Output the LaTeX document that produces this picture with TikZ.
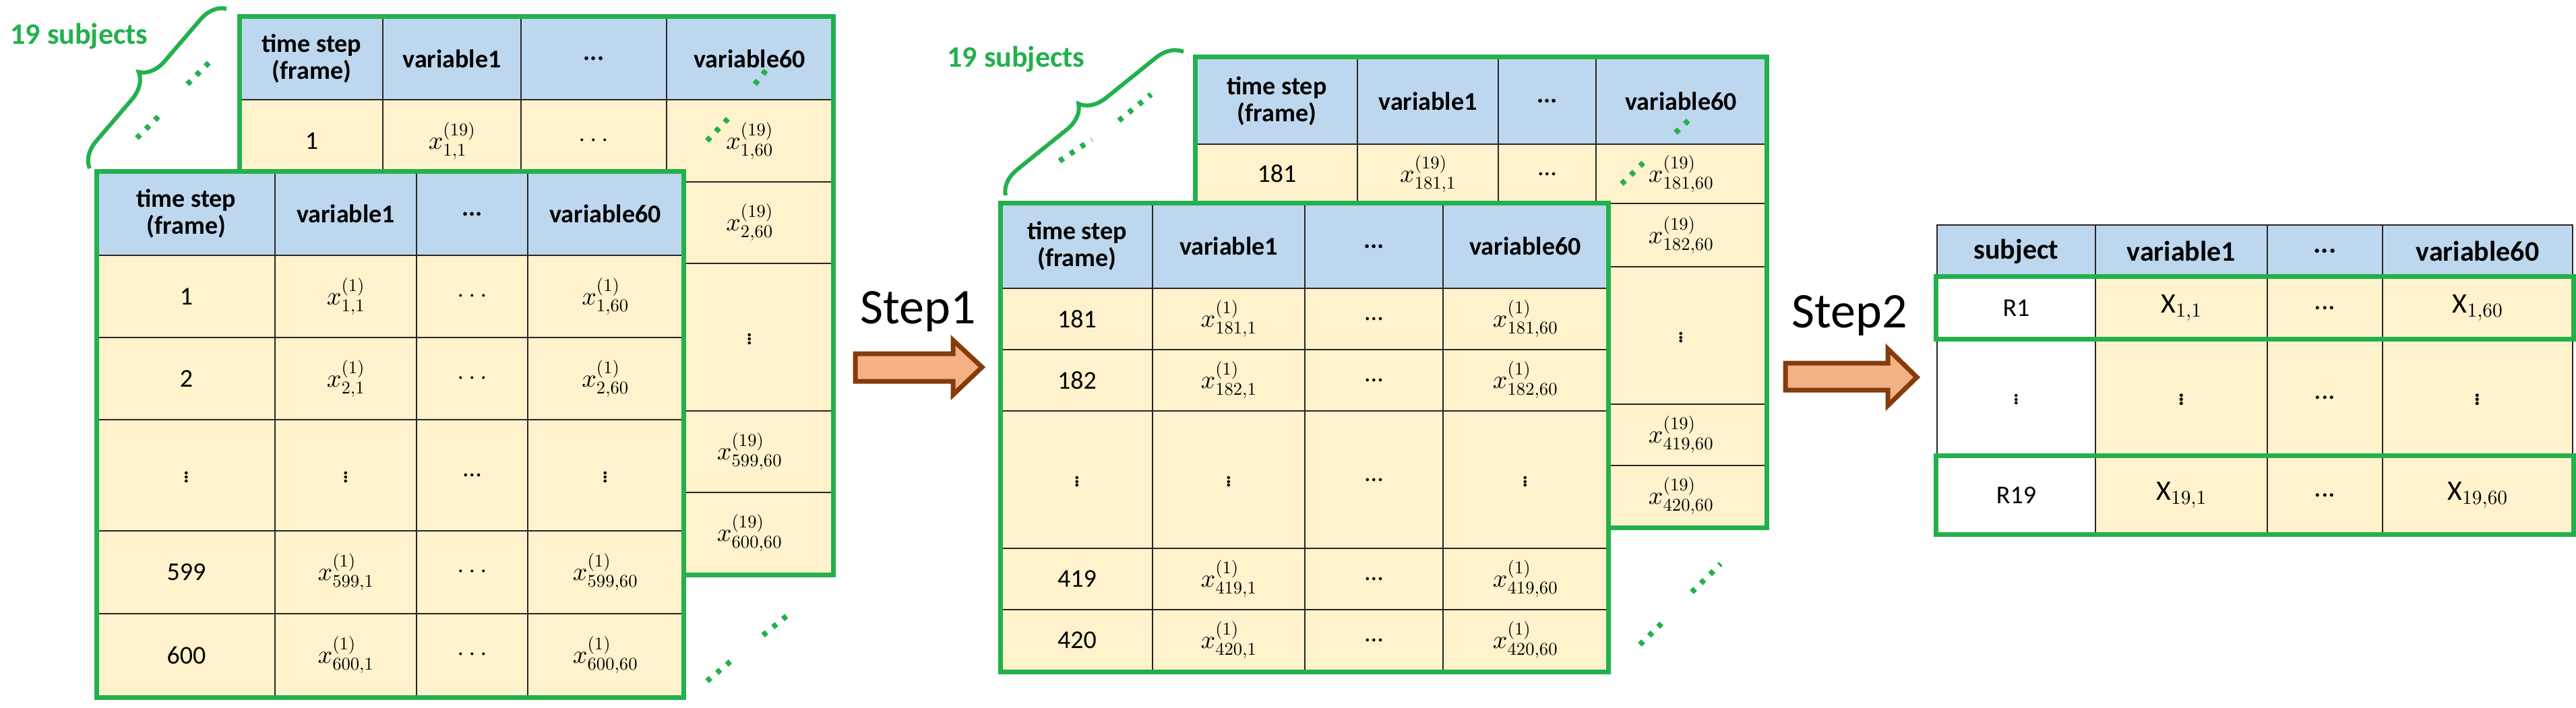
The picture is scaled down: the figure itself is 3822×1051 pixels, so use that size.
\documentclass[tikz,border=0pt]{standalone}
\usepackage{fontspec}
\setmainfont{Carlito}
\DeclareFontShape{OML}{cmm}{m}{it}{<-> cmmi10}{}
\DeclareFontShape{OMS}{cmsy}{m}{n}{<-> cmsy10}{}
\DeclareFontShape{OT1}{cmr}{m}{n}{<-> cmr10}{}
\DeclareFontShape{OMX}{cmex}{m}{n}{<-> cmex10}{}
\usetikzlibrary{decorations.pathreplacing}
\definecolor{hdr}{HTML}{BDD7EE}
\definecolor{dat}{HTML}{FFF2CC}
\definecolor{grn}{HTML}{22B14C}
\definecolor{arrf}{HTML}{F4B183}
\definecolor{arrd}{HTML}{843C0C}
\newcommand\setcols[5]{\def\xa{#1}\def\xb{#2}\def\xc{#3}\def\xd{#4}\def\xe{#5}}
\newcommand\trow[8]{%
 \node[cell,#4,minimum width={\xb-\xa},minimum height={#3-#2}] (#1a) at ({(\xa+\xb)/2},{(#2+#3)/2}) {#5};
 \node[cell,#4,minimum width={\xc-\xb},minimum height={#3-#2}] (#1b) at ({(\xb+\xc)/2},{(#2+#3)/2}) {#6};
 \node[cell,#4,minimum width={\xd-\xc},minimum height={#3-#2}] (#1c) at ({(\xc+\xd)/2},{(#2+#3)/2}) {#7};
 \node[cell,#4,minimum width={\xe-\xd},minimum height={#3-#2}] (#1d) at ({(\xd+\xe)/2},{(#2+#3)/2}) {#8};}
\newcommand\trowW[8]{%
 \node[cell,fill=white,minimum width={\xb-\xa},minimum height={#3-#2}] (#1a) at ({(\xa+\xb)/2},{(#2+#3)/2}) {#5};
 \node[cell,#4,minimum width={\xc-\xb},minimum height={#3-#2}] (#1b) at ({(\xb+\xc)/2},{(#2+#3)/2}) {#6};
 \node[cell,#4,minimum width={\xd-\xc},minimum height={#3-#2}] (#1c) at ({(\xc+\xd)/2},{(#2+#3)/2}) {#7};
 \node[cell,#4,minimum width={\xe-\xd},minimum height={#3-#2}] (#1d) at ({(\xd+\xe)/2},{(#2+#3)/2}) {#8};}
\tikzset{
 cell/.style={draw=black!85,line width=2.5pt,inner sep=0pt,align=center,font=\fontsize{38}{40}\selectfont},
 H/.style={fill=hdr,font=\fontsize{38}{40}\selectfont\bfseries},
 D/.style={fill=dat},
 gbox/.style={draw=grn,line width=7pt},
 gdots/.style={draw=grn,line width=8pt,dash pattern=on 7pt off 12pt},
 brc/.style={draw=grn,line width=6pt,decorate,decoration={brace,amplitude=38pt}},
 arr/.style={fill=arrf,draw=arrd,line width=7pt,line join=miter},
 steptxt/.style={font=\fontsize{74}{80}\selectfont},
 subj/.style={text=grn,font=\fontsize{44}{48}\selectfont\bfseries}
}
\begin{document}
\begin{tikzpicture}[x=1pt,y=-1pt]
\useasboundingbox[fill=white] (0,0) rectangle (3822,1051);
% ---------- Table 1 back ----------
\setcols{357}{568}{773}{989}{1235}
\trow{pb}{26}{148}{H}{time step\\(frame)}{variable1}{...}{variable60}
\trow{pbr1}{148}{270}{D}{1}{$x^{(19)}_{1,1}$}{$\cdots$}{$x^{(19)}_{1,60}$}
\trow{pbr2}{270}{391}{D}{2}{$x^{(19)}_{2,1}$}{$\cdots$}{$x^{(19)}_{2,60}$}
\trow{pbr3}{391}{610}{D}{$\vdots$}{$\vdots$}{...}{$\vdots$}
\trow{pbr4}{610}{731}{D}{599}{$x^{(19)}_{599,1}$}{$\cdots$}{$x^{(19)}_{599,60}$}
\trow{pbr5}{731}{852}{D}{600}{$x^{(19)}_{600,1}$}{$\cdots$}{$x^{(19)}_{600,60}$}
\draw[gbox] (pba.north west) rectangle (pbr5d.south east);
\coordinate (d1a) at (1120,125); \coordinate (d1b) at (1140,100);
\coordinate (d2a) at (1049,209); \coordinate (d2b) at (1086,170);
\coordinate (d3a) at (1049,1011); \coordinate (d3b) at (1092,975);
\coordinate (d4a) at (1132,943); \coordinate (d4b) at (1175,908);
\coordinate (d5a) at (203,205); \coordinate (d5b) at (242,166);
\coordinate (d6a) at (278,125); \coordinate (d6b) at (317,86);
\foreach \p in {1,...,6} \draw[gdots] (d\p a) -- (d\p b);
% ---------- Table 1 front ----------
\setcols{145}{408}{618}{783}{1013}
\trow{pf}{256}{379}{H}{time step\\(frame)}{variable1}{...}{variable60}
\trow{pfr1}{379}{501}{D}{1}{$x^{(1)}_{1,1}$}{$\cdots$}{$x^{(1)}_{1,60}$}
\trow{pfr2}{501}{623}{D}{2}{$x^{(1)}_{2,1}$}{$\cdots$}{$x^{(1)}_{2,60}$}
\trow{pfr3}{623}{788}{D}{$\vdots$}{$\vdots$}{...}{$\vdots$}
\trow{pfr4}{788}{911}{D}{599}{$x^{(1)}_{599,1}$}{$\cdots$}{$x^{(1)}_{599,60}$}
\trow{pfr5}{911}{1034}{D}{600}{$x^{(1)}_{600,1}$}{$\cdots$}{$x^{(1)}_{600,60}$}
\draw[gbox] (pfa.north west) rectangle (pfr5d.south east);
\coordinate (b1s) at (133,250); \coordinate (b1e) at (336,13);
\draw[brc] (b1s) -- (b1e);
\node[subj,anchor=west] (s1) at (12,54) {19 subjects};
% ---------- Step1 arrow ----------
\node[steptxt] (st1) at (1362,462) {Step1};
\draw[arr] (1269,525) -- (1414,525) -- (1414,505) -- (1457,545) -- (1414,586) -- (1414,566) -- (1269,566) -- cycle;
% ---------- Table 2 back ----------
\setcols{1775}{2014}{2223}{2368}{2620}
\trow{qb}{86}{214}{H}{time step\\(frame)}{variable1}{...}{variable60}
\trow{qbr1}{214}{302}{D}{181}{$x^{(19)}_{181,1}$}{...}{$x^{(19)}_{181,60}$}
\trow{qbr2}{302}{396}{D}{182}{$x^{(19)}_{182,1}$}{...}{$x^{(19)}_{182,60}$}
\trow{qbr3}{396}{600}{D}{$\vdots$}{$\vdots$}{...}{$\vdots$}
\trow{qbr4}{600}{691}{D}{419}{$x^{(19)}_{419,1}$}{...}{$x^{(19)}_{419,60}$}
\trow{qbr5}{691}{782}{D}{420}{$x^{(19)}_{420,1}$}{...}{$x^{(19)}_{420,60}$}
\draw[gbox] (qba.north west) rectangle (qbr5d.south east);
\coordinate (e1a) at (2486,197); \coordinate (e1b) at (2512,172);
\coordinate (e2a) at (2406,273); \coordinate (e2b) at (2446,234);
\coordinate (e3a) at (2433,957); \coordinate (e3b) at (2473,918);
\coordinate (e4a) at (2510,879); \coordinate (e4b) at (2553,837);
\coordinate (e5a) at (1572,239); \coordinate (e5b) at (1620,207);
\coordinate (e6a) at (1660,179); \coordinate (e6b) at (1708,140);
\foreach \p in {1,...,6} \draw[gdots] (e\p a) -- (e\p b);
% ---------- Table 2 front ----------
\setcols{1486}{1710}{1936}{2141}{2385}
\trow{qf}{303}{428}{H}{time step\\(frame)}{variable1}{...}{variable60}
\trow{qfr1}{428}{519}{D}{181}{$x^{(1)}_{181,1}$}{...}{$x^{(1)}_{181,60}$}
\trow{qfr2}{519}{610}{D}{182}{$x^{(1)}_{182,1}$}{...}{$x^{(1)}_{182,60}$}
\trow{qfr3}{610}{814}{D}{$\vdots$}{$\vdots$}{...}{$\vdots$}
\trow{qfr4}{814}{905}{D}{419}{$x^{(1)}_{419,1}$}{...}{$x^{(1)}_{419,60}$}
\trow{qfr5}{905}{996}{D}{420}{$x^{(1)}_{420,1}$}{...}{$x^{(1)}_{420,60}$}
\draw[gbox] (qfa.north west) rectangle (qfr5d.south east);
\coordinate (b2s) at (1492,290); \coordinate (b2e) at (1756,77);
\draw[brc] (b2s) -- (b2e);
\node[subj,anchor=west] (s2) at (1402,88) {19 subjects};
% ---------- Step2 arrow ----------
\node[steptxt] (st2) at (2744,468) {Step2};
\draw[arr] (2649,539) -- (2801,539) -- (2801,518) -- (2844,560) -- (2801,602) -- (2801,579) -- (2649,579) -- cycle;
% ---------- Table 3 ----------
\setcols{2874}{3109}{3364}{3535}{3817}
\trow{rh}{334}{412}{H,font=\fontsize{42}{44}\selectfont\bfseries}{subject}{variable1}{...}{variable60}
\trowW{rr1}{412}{502}{D,font=\fontsize{42}{44}\selectfont}{R1}{$\mathrm{X}_{1,1}$}{...}{$\mathrm{X}_{1,60}$}
\trowW{rr2}{502}{678}{D,font=\fontsize{42}{44}\selectfont}{$\vdots$}{$\vdots$}{...}{$\vdots$}
\trowW{rr3}{678}{792}{D,font=\fontsize{42}{44}\selectfont}{R19}{$\mathrm{X}_{19,1}$}{...}{$\mathrm{X}_{19,60}$}
\draw[gbox] (rr1a.north west) rectangle (rr1d.south east);
\draw[gbox] (rr3a.north west) rectangle (rr3d.south east);
\end{tikzpicture}
\end{document}
